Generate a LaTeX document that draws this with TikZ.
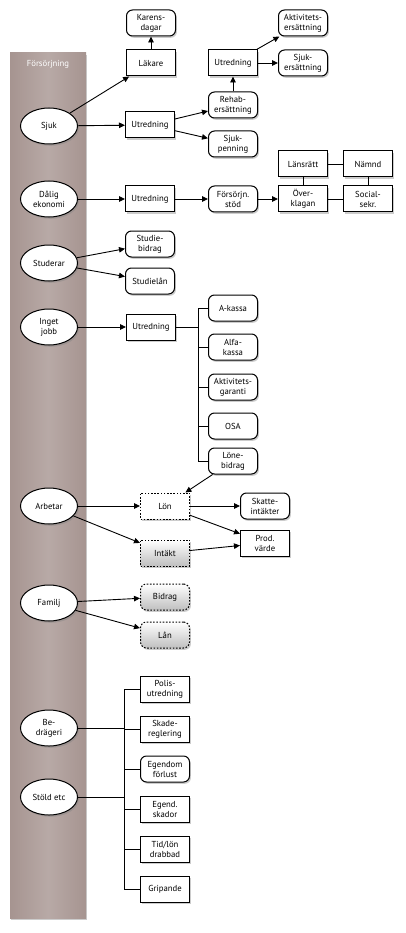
\documentclass[tikz,border=0pt]{standalone}
\usepackage{fontspec}
\setmainfont{PT Sans}
\usetikzlibrary{positioning,shapes.geometric,arrows.meta,shadows}
\definecolor{barbrown}{RGB}{166,148,144}

\begin{document}
\begin{tikzpicture}%
  [x=1pt,y=-1pt,
   font=\fontsize{8.7}{10}\selectfont,
   lifted/.style=
    {drop shadow={shadow xshift=1.4pt,shadow yshift=-1.8pt,opacity=0.4}},
   cause/.style=
    {ellipse,draw,fill=white,line width=1pt,minimum width=57pt,
     minimum height=36pt,inner sep=0pt,align=center,lifted},
   office/.style=
    {rectangle,draw,fill=white,line width=1pt,minimum width=49pt,
     minimum height=26pt,inner sep=0pt,align=center,lifted},
   benefit/.style={office,rounded corners=6pt},
   maybe/.style={office,dash pattern=on 1.6pt off 1.6pt},
   maybegray/.style={maybe,top color=white,bottom color=black!25},
   flow/.style={line width=0.9pt,-{Triangle[length=6pt,width=5.5pt]}},
   link/.style={line width=0.9pt},
   node distance=13pt
  ]
  \useasboundingbox (0,0) rectangle (406,933);
  % the column on the left
  \node[rectangle,minimum width=76pt,minimum height=865pt,inner sep=0pt,
        left color=barbrown,right color=barbrown,middle color=barbrown!80!white,
        lifted] (bar) at (48,485.5) {};
  \node[text=white,below=4pt of bar.north] (title) {Försörjning};

  \node[cause] (sjuk) at (49,126) {Sjuk};
  \node[cause] (dalig) at (49,199) {Dålig\\ekonomi};
  \node[cause] (studerar) at (49,263) {Studerar};
  \node[cause] (inget) at (49,327) {Inget\\jobb};
  \node[cause] (arbetar) at (49,506) {Arbetar};
  \node[cause] (familj) at (49,603) {Familj};
  \node[cause] (bedrageri) at (49,728) {Be-\\drägeri};
  \node[cause] (stold) at (49,797) {Stöld etc};

  % sjuk
  \node[office] (lakare) at (151,63) {Läkare};
  \node[benefit] (karens) at (151,23) {Karens-\\dagar};
  \node[office] (utrsjuk) at (150,125) {Utredning};
  \node[benefit] (rehab) at (233,105) {Rehab-\\ersättning};
  \node[benefit] (sjukpenning) at (233,144) {Sjuk-\\penning};
  \node[office] (utrrehab) at (233,63) {Utredning};
  \node[benefit] (aktersatt) at (303,23) {Aktivitets-\\ersättning};
  \node[benefit] (sjukersatt) at (303,63) {Sjuk-\\ersättning};
  \draw[flow] (sjuk) -- (lakare);
  \draw[flow] (lakare) -- (karens);
  \draw[flow] (sjuk) -- (utrsjuk);
  \draw[flow] (utrsjuk) -- (rehab);
  \draw[flow] (utrsjuk) -- (sjukpenning);
  \draw[flow] (rehab) -- (utrrehab);
  \draw[flow] (utrrehab) -- (aktersatt);
  \draw[flow] (utrrehab) -- (sjukersatt);

  % dålig ekonomi
  \node[office] (utrekon) at (150,199) {Utredning};
  \node[benefit] (forsorjn) at (233,199) {Försörjn.\\stöd};
  \node[office] (overkl) at (303,199) {Över-\\klagan};
  \node[office] (lansratt) at (303,164) {Länsrätt};
  \node[office] (socsekr) at (368,199) {Social-\\sekr.};
  \node[office] (namnd) at (368,164) {Nämnd};
  \draw[flow] (dalig) -- (utrekon);
  \draw[flow] (utrekon) -- (forsorjn);
  \draw[flow] (forsorjn) -- (overkl);
  \draw[link] (lansratt) -- (namnd);
  \draw[link] (lansratt) -- (overkl);
  \draw[link] (namnd) -- (socsekr);
  \draw[link] (overkl) -- (socsekr);

  % studerar
  \node[benefit] (studiebidrag) at (150,244) {Studie-\\bidrag};
  \node[benefit] (studielan) at (150,281) {Studielån};
  \draw[flow] (studerar) -- (studiebidrag);
  \draw[flow] (studerar) -- (studielan);

  % inget jobb
  \node[office] (utrjobb) at (151,327) {Utredning};
  \node[benefit] (akassa) at (233,308) {A-kassa};
  \node[benefit] (alfa) at (233,347) {Alfa-\\kassa};
  \node[benefit] (aktgar) at (233,387) {Aktivitets-\\garanti};
  \node[benefit] (osa) at (233,426) {OSA};
  \node[benefit] (lonebidrag) at (233,461) {Löne-\\bidrag};
  \coordinate (fork) at (198,327);
  \draw[flow] (inget) -- (utrjobb);
  \draw[link] (utrjobb) -- (fork);
  \draw[link] (fork |- akassa) -- (fork |- lonebidrag);
  \foreach \n in {akassa,alfa,aktgar,osa,lonebidrag}
    \draw[link] (fork |- \n) -- (\n);

  % arbetar
  \node[maybe] (lon) at (165,506) {Lön};
  \node[maybegray] (intakt) at (165,553) {Intäkt};
  \node[benefit] (skatt) at (265,506) {Skatte-\\intäkter};
  \node[office] (prod) at (265,543) {Prod.\\värde};
  \draw[flow] (lonebidrag) -- (lon);
  \draw[flow] (arbetar) -- (lon);
  \draw[flow] (arbetar) -- (intakt);
  \draw[flow] (lon) -- (skatt);
  \draw[flow] (lon) -- (prod);
  \draw[flow] (intakt) -- (prod);

  % familj
  \node[maybegray,rounded corners=6pt] (bidrag) at (165,597) {Bidrag};
  \node[maybegray,rounded corners=6pt] (lan) at (165,635) {Lån};
  \draw[flow] (familj) -- (bidrag);
  \draw[flow] (familj) -- (lan);

  % bedrägeri och stöld
  \node[office] (polis) at (165,689) {Polis-\\utredning};
  \node[office,below=of polis] (skade) {Skade-\\reglering};
  \node[benefit,below=of skade] (egfor) {Egendom\\förlust};
  \node[office,below=of egfor] (egska) {Egend.\\skador};
  \node[office,below=of egska] (tidlon) {Tid/lön\\drabbad};
  \node[office,below=of tidlon] (gripande) {Gripande};
  \coordinate (trunk) at (124,728);
  \draw[link] (bedrageri) -- (bedrageri -| trunk);
  \draw[link] (stold) -- (stold -| trunk);
  \draw[link] (trunk |- polis) -- (trunk |- gripande);
  \foreach \n in {polis,skade,egfor,egska,tidlon,gripande}
    \draw[link] (trunk |- \n) -- (\n);
\end{tikzpicture}
\end{document}
